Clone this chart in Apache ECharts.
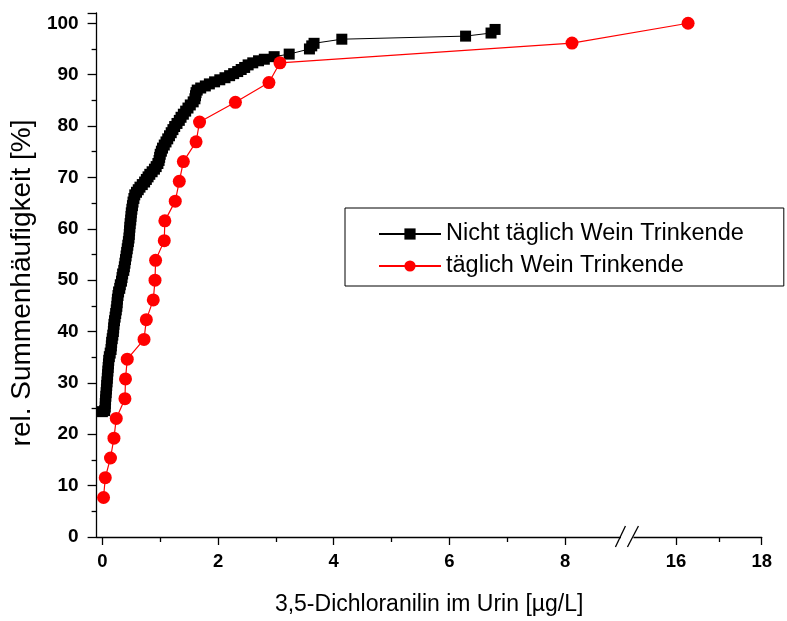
<!DOCTYPE html>
<html>
<head>
<meta charset="utf-8">
<script src="https://cdn.jsdelivr.net/npm/echarts@6/dist/echarts.min.js"></script>
<style>html,body{margin:0;padding:0;background:#fff;}#c{width:787px;height:621px;}</style>
</head>
<body>
<div id="c"></div>
<script>
// ---- data ----
const seriesNames = ['Nicht täglich Wein Trinkende', 'täglich Wein Trinkende'];

const blackX = [0.00,0.04,0.05,0.05,0.055,0.06,0.065,0.07,0.075,0.08,0.085,0.09,0.095,0.10,0.105,0.11,0.12,0.135,0.15,0.155,0.16,0.17,0.18,0.19,0.195,0.20,0.21,0.22,0.23,0.24,0.25,0.255,0.26,0.27,0.28,0.30,0.31,0.33,0.34,0.35,0.37,0.38,0.39,0.40,0.41,0.42,0.43,0.44,0.45,0.46,0.465,0.47,0.475,0.48,0.49,0.495,0.50,0.51,0.52,0.53,0.545,0.56,0.59,0.62,0.65,0.69,0.73,0.76,0.79,0.82,0.86,0.90,0.93,0.96,0.98,0.99,1.00,1.02,1.04,1.07,1.10,1.13,1.16,1.19,1.22,1.25,1.29,1.33,1.36,1.40,1.44,1.48,1.52,1.57,1.60,1.61,1.62,1.64,1.70,1.78,1.85,1.94,2.03,2.12,2.20,2.27,2.34,2.40,2.46,2.52,2.60,2.70,2.80,2.97,3.23,3.58,3.62,3.66,4.14,6.28,6.72,6.79];
const blackY = [24.4,24.6,25.3,26.0,26.7,27.4,28.1,28.8,29.5,30.2,30.9,31.6,32.3,33.0,33.7,34.4,35.1,35.8,36.5,37.2,37.9,38.6,39.3,40.0,40.7,41.4,42.1,42.8,43.5,44.2,44.9,45.6,46.3,47.0,47.7,48.4,49.1,49.8,50.5,51.2,51.9,52.6,53.3,54.0,54.7,55.4,56.1,56.8,57.5,58.2,58.9,59.6,60.3,61.0,61.7,62.4,63.1,63.8,64.5,65.2,65.9,66.6,67.1,67.6,68.1,68.6,69.1,69.6,70.1,70.6,71.1,71.6,72.1,72.7,73.3,73.9,74.5,75.1,75.7,76.3,76.9,77.5,78.1,78.7,79.3,79.9,80.5,81.1,81.7,82.3,82.9,83.5,84.1,84.7,85.3,85.9,86.5,87.0,87.4,87.8,88.2,88.6,89.0,89.4,89.8,90.2,90.6,91.0,91.4,91.9,92.3,92.7,93.0,93.5,94.0,95.0,95.6,96.1,96.9,97.5,98.1,98.8];

const redX = [0.02,0.05,0.14,0.20,0.24,0.39,0.40,0.43,0.72,0.76,0.88,0.91,0.92,1.07,1.08,1.26,1.33,1.40,1.62,1.68,2.30,2.88,3.07,8.12,16.28];
const redY = [7.69,11.54,15.38,19.23,23.08,26.92,30.77,34.62,38.46,42.31,46.15,50.0,53.85,57.69,61.54,65.38,69.23,73.08,76.92,80.77,84.62,88.46,92.31,96.15,100];

const xMajorTicks = [0, 2, 4, 6, 8, 16, 18];
const xMinorTicks = [1, 3, 5, 7, 17];
const xTitle = '3,5-Dichloranilin im Urin [µg/L]';
const yTitle = 'rel. Summenhäufigkeit [%]';

// ---- broken x axis: piecewise mapping ----
const BREAK_T = 9.07;     // axis position of the break
const T16 = 9.92;         // axis position of value 16
const SCALE2 = 0.74;      // compression of the right segment
function tx(v) { return v <= BREAK_T ? v : T16 + (v - 16) * SCALE2; }
function inv(t) { return t <= BREAK_T ? t : 16 + (t - T16) / SCALE2; }

const FONT = '"Liberation Sans", Arial, Helvetica, sans-serif';
const chart = echarts.init(document.getElementById('c'), null, {renderer: 'canvas'});

const xMin = -0.1, xMax = tx(18);
const option = {
  animation: false,
  backgroundColor: '#fff',
  textStyle: {fontFamily: FONT},
  grid: {left: 95, right: 787 - 761.7, top: 13, bottom: 82, containLabel: false},
  legend: {
    orient: 'vertical',
    left: 345, top: 208,
    padding: [14, 40, 8, 33],
    itemWidth: 62, itemHeight: 14, itemGap: 8,
    borderColor: '#000', borderWidth: 1,
    textStyle: {fontFamily: FONT, fontSize: 23.5, color: '#000', lineHeight: 21},
    data: seriesNames
  },
  xAxis: [{
    type: 'value', min: xMin, max: xMax, position: 'bottom',
    name: xTitle, nameLocation: 'middle', nameGap: 56,
    nameTextStyle: {fontFamily: FONT, fontSize: 23, color: '#000'},
    axisLine: {show: true, onZero: false, lineStyle: {color: '#000', width: 1.3}},
    axisTick: {show: true, length: 8, lineStyle: {color: '#000', width: 1.3}, customValues: xMajorTicks.map(tx)},
    axisLabel: {show: true, margin: 15, customValues: xMajorTicks.map(tx), fontFamily: FONT, fontSize: 18.5, fontWeight: 'bold', color: '#000',
      formatter: function (t) { return String(Math.round(inv(t))); }},
    splitLine: {show: false}
  }, {
    type: 'value', min: xMin, max: xMax, position: 'bottom',
    axisLine: {show: false, onZero: false},
    axisTick: {show: true, length: 5, lineStyle: {color: '#000', width: 1.3}, customValues: xMinorTicks.map(tx)},
    axisLabel: {show: false},
    splitLine: {show: false}
  }],
  yAxis: {
    type: 'value', min: 0, max: 102, interval: 10,
    name: yTitle, nameLocation: 'middle', nameGap: 60, nameRotate: 90,
    nameTextStyle: {fontFamily: FONT, fontSize: 28, color: '#000', padding: [0, 16, 0, 0]},
    axisLine: {show: true, onZero: false, lineStyle: {color: '#000', width: 1.3}},
    axisTick: {show: true, length: 9, lineStyle: {color: '#000', width: 1.3}},
    minorTick: {show: true, splitNumber: 2, length: 5, lineStyle: {color: '#000', width: 1.3}},
    axisLabel: {margin: 18, fontFamily: FONT, fontSize: 19, fontWeight: 'bold', color: '#000',
      showMaxLabel: false},
    splitLine: {show: false}
  },
  series: [{
    name: seriesNames[0], type: 'line',
    data: blackX.map((x, i) => [tx(x), blackY[i]]),
    symbol: 'rect', symbolSize: 11,
    itemStyle: {color: '#000'},
    lineStyle: {color: '#000', width: 1},
    z: 2
  }, {
    name: seriesNames[1], type: 'line',
    data: redX.map((x, i) => [tx(x), redY[i]]),
    symbol: 'circle', symbolSize: 13,
    itemStyle: {color: '#ff0000'},
    lineStyle: {color: '#ff0000', width: 1.2},
    z: 3
  }]
};
chart.setOption(option);

// axis break marks "//"
const bx = chart.convertToPixel({xAxisIndex: 0}, BREAK_T);
const by = chart.convertToPixel({yAxisIndex: 0}, 0);
chart.setOption({
  graphic: [
    {type: 'rect', shape: {x: bx - 6, y: by - 3, width: 12.5, height: 6}, style: {fill: '#fff'}, z: 100},
    {type: 'line', shape: {x1: bx - 11.5, y1: by + 10, x2: bx - 1.5, y2: by - 11}, style: {stroke: '#000', lineWidth: 1.3}, z: 101},
    {type: 'line', shape: {x1: bx + 0.5, y1: by + 10, x2: bx + 11.5, y2: by - 11}, style: {stroke: '#000', lineWidth: 1.3}, z: 101}
  ]
});
</script>
</body>
</html>
